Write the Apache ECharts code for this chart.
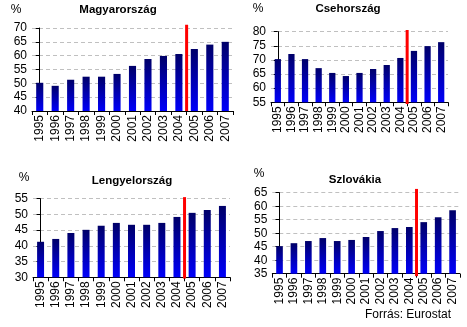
<!DOCTYPE html>
<html>
<head>
<meta charset="utf-8">
<script src="https://cdn.jsdelivr.net/npm/echarts@6/dist/echarts.min.js"></script>
<style>
html,body{margin:0;padding:0;background:#fff;}
#c{width:467px;height:327px;}
</style>
</head>
<body>
<div id="c"></div>
<script>
const years = ['1995','1996','1997','1998','1999','2000','2001','2002','2003','2004','2005','2006','2007'];
const titles = ['Magyarország','Csehország','Lengyelország','Szlovákia'];
const huValues = [50.2,49.1,51.3,52.4,52.4,53.4,56.3,58.8,59.9,60.6,62.4,64.0,65.0];
const czValues = [70.3,72.1,70.3,67.1,65.4,64.3,65.4,66.8,68.2,70.7,73.2,74.9,76.3];
const plValues = [41.3,42.2,44.1,45.1,46.4,47.3,46.7,46.7,47.3,49.2,50.5,51.4,52.7];
const skValues = [45.2,46.3,47.1,48.2,47.1,47.5,48.6,50.8,51.9,52.3,54.1,55.9,58.5];
const huTicks = [40,45,50,55,60,65,70];
const czTicks = [55,60,65,70,75,80];
const plTicks = [30,35,40,45,50,55];
const skTicks = [35,40,45,50,55,60,65];
// red marker: category boundary between 2004 and 2005, y from/to
const markerPos = 9.5;
const huMarker = [40, 71.2];
const czMarker = [54.4, 80.6];
const plMarker = [29.6, 55.5];
const skMarker = [34.1, 66.4];
const source = 'Forrás: Eurostat';

const allValues = [huValues, czValues, plValues, skValues];
const allTicks = [huTicks, czTicks, plTicks, skTicks];
const allMarkers = [huMarker, czMarker, plMarker, skMarker];

const grids = [
  {left:32, top:28, width:201, height:83},
  {left:271, top:31.7, width:177, height:70.6},
  {left:33, top:198.7, width:197, height:78.6},
  {left:272.3, top:192.7, width:187.5, height:81}
];
const titlePos = [[118,10],[348,9],[132,181],[355,180]];
const pctPos = [[16,10],[258,9],[24,178],[259,174]];

const font = 'Liberation Sans, Arial, sans-serif';
const option = {
  animation:false,
  grid: grids.map(g => Object.assign({containLabel:false}, g)),
  xAxis: [],
  yAxis: [],
  series: [],
  graphic: []
};
for (let i=0;i<4;i++){
  const t = allTicks[i];
  option.xAxis.push({
    type:'category', data:years, gridIndex:i,
    axisLine:{lineStyle:{color:'#000',width:1}},
    axisTick:{show:true,length:4,lineStyle:{color:'#000'}},
    axisLabel:{interval:0, rotate:90, margin:4, color:'#000', fontSize:12, fontFamily:font},
    splitLine:{show:false}
  });
  option.xAxis.push({
    type:'value', gridIndex:i, min:-0.5, max:12.5, show:false
  });
  option.yAxis.push({
    type:'value', gridIndex:i, min:t[0], max:t[t.length-1], interval:5,
    axisLine:{show:true,lineStyle:{color:'#000',width:1}},
    axisTick:{show:true,length:4,lineStyle:{color:'#000'}},
    axisLabel:{margin:5, color:'#000', fontSize:12, fontFamily:font},
    splitLine:{show:true,lineStyle:{color:'#c0c0c0',type:[4,3],width:1}}
  });
  option.series.push({
    type:'bar', xAxisIndex:2*i, yAxisIndex:i, data:allValues[i], barWidth:'46%',
    itemStyle:{color:new echarts.graphic.LinearGradient(0,0,0,1,[
      {offset:0,color:'#000068'},{offset:1,color:'#0000fa'}])}
  });
  const m = allMarkers[i];
  option.series.push({
    type:'line', xAxisIndex:2*i+1, yAxisIndex:i, clip:false, symbol:'none',
    data:[[markerPos,m[0]],[markerPos,m[1]]],
    lineStyle:{color:'#ff0000',width:3}, z:5
  });
  option.graphic.push({
    type:'text', x:titlePos[i][0], y:titlePos[i][1],
    style:{text:titles[i], font:'bold 11.5px '+font, fill:'#000', textAlign:'center', textVerticalAlign:'middle'}
  });
  option.graphic.push({
    type:'text', x:pctPos[i][0], y:pctPos[i][1],
    style:{text:'%', font:'12px '+font, fill:'#000', textAlign:'center', textVerticalAlign:'middle'}
  });
}
option.graphic.push({
  type:'text', x:451, y:315,
  style:{text:source, font:'12px '+font, fill:'#000', textAlign:'right', textVerticalAlign:'middle'}
});
const chart = echarts.init(document.getElementById('c'), null, {renderer:'canvas'});
chart.setOption(option);
</script>
</body>
</html>
